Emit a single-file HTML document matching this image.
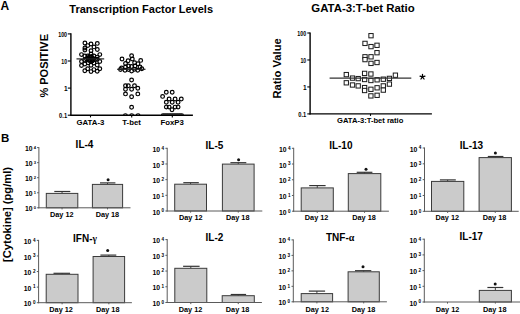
<!DOCTYPE html>
<html><head><meta charset="utf-8"><style>
html,body{margin:0;padding:0;background:#fff;}
body{width:520px;height:314px;overflow:hidden;}
svg{display:block;font-family:"Liberation Sans", sans-serif;}
</style></head><body>
<svg width="520" height="314" viewBox="0 0 520 314">
<rect width="520" height="314" fill="#fff"/>
<text x="0.6" y="9.6" font-size="12" font-weight="bold" text-anchor="start" fill="#000" >A</text>
<text x="1.0" y="142.3" font-size="11.5" font-weight="bold" text-anchor="start" fill="#000" >B</text>
<text x="141.2" y="12.7" font-size="11" font-weight="bold" text-anchor="middle" fill="#000" >Transcription Factor Levels</text>
<text transform="translate(48.1,97.6) rotate(-90)" x="0" y="0" font-size="11" font-weight="bold">% POSITIVE</text>
<line x1="70.9" y1="33.3" x2="70.9" y2="115.8" stroke="#000" stroke-width="1.4"/>
<line x1="70.3" y1="115.2" x2="192.9" y2="115.2" stroke="#000" stroke-width="1.4"/>
<line x1="67.8" y1="33.9" x2="70.9" y2="33.9" stroke="#000" stroke-width="1.1"/>
<text x="58.2" y="36.7" font-size="6.5" font-weight="bold" textLength="8.9" lengthAdjust="spacingAndGlyphs">100</text>
<line x1="67.8" y1="61.0" x2="70.9" y2="61.0" stroke="#000" stroke-width="1.1"/>
<text x="61.3" y="63.8" font-size="6.5" font-weight="bold" textLength="5.8" lengthAdjust="spacingAndGlyphs">10</text>
<line x1="67.8" y1="88.1" x2="70.9" y2="88.1" stroke="#000" stroke-width="1.1"/>
<text x="67.6" y="90.9" font-size="6.5" font-weight="bold" text-anchor="end">1</text>
<line x1="67.8" y1="115.2" x2="70.9" y2="115.2" stroke="#000" stroke-width="1.1"/>
<text x="59.1" y="118" font-size="6.5" font-weight="bold" textLength="8.0" lengthAdjust="spacingAndGlyphs">0.1</text>
<line x1="90.5" y1="115.2" x2="90.5" y2="117.4" stroke="#000" stroke-width="1.1"/>
<line x1="131.7" y1="115.2" x2="131.7" y2="117.4" stroke="#000" stroke-width="1.1"/>
<line x1="172.3" y1="115.2" x2="172.3" y2="117.4" stroke="#000" stroke-width="1.1"/>
<text x="90.4" y="124.7" font-size="7.8" font-weight="bold" text-anchor="middle" fill="#000" >GATA-3</text>
<text x="131.6" y="124.7" font-size="7.8" font-weight="bold" text-anchor="middle" fill="#000" >T-bet</text>
<text x="172.2" y="124.7" font-size="7.8" font-weight="bold" text-anchor="middle" fill="#000" >FoxP3</text>
<defs><clipPath id="abv"><rect x="60" y="20" width="140" height="95.2"/></clipPath></defs>
<circle cx="84.9" cy="43" r="1.85" fill="none" stroke="#000" stroke-width="1.2"/>
<circle cx="91" cy="44" r="1.85" fill="none" stroke="#000" stroke-width="1.2"/>
<circle cx="97.3" cy="43.4" r="1.85" fill="none" stroke="#000" stroke-width="1.2"/>
<circle cx="87.8" cy="45.6" r="1.85" fill="none" stroke="#000" stroke-width="1.2"/>
<circle cx="94" cy="46.9" r="1.85" fill="none" stroke="#000" stroke-width="1.2"/>
<circle cx="84.9" cy="48.0" r="1.85" fill="none" stroke="#000" stroke-width="1.2"/>
<circle cx="84.9" cy="50.0" r="1.85" fill="none" stroke="#000" stroke-width="1.2"/>
<circle cx="97.3" cy="49.5" r="1.85" fill="none" stroke="#000" stroke-width="1.2"/>
<circle cx="91" cy="50.7" r="1.85" fill="none" stroke="#000" stroke-width="1.2"/>
<circle cx="81.5" cy="54.6" r="1.85" fill="none" stroke="#000" stroke-width="1.2"/>
<circle cx="99.8" cy="54.6" r="1.85" fill="none" stroke="#000" stroke-width="1.2"/>
<circle cx="84.8" cy="56" r="1.85" fill="none" stroke="#000" stroke-width="1.2"/>
<circle cx="87.7" cy="56" r="1.85" fill="none" stroke="#000" stroke-width="1.2"/>
<circle cx="91" cy="54" r="1.85" fill="none" stroke="#000" stroke-width="1.2"/>
<circle cx="93.9" cy="56" r="1.85" fill="none" stroke="#000" stroke-width="1.2"/>
<circle cx="97.2" cy="57.1" r="1.85" fill="none" stroke="#000" stroke-width="1.2"/>
<circle cx="88.5" cy="58" r="1.85" fill="none" stroke="#000" stroke-width="1.2"/>
<circle cx="91" cy="57.5" r="1.85" fill="none" stroke="#000" stroke-width="1.2"/>
<circle cx="93" cy="58.5" r="1.85" fill="none" stroke="#000" stroke-width="1.2"/>
<circle cx="90" cy="60" r="1.85" fill="none" stroke="#000" stroke-width="1.2"/>
<circle cx="92.5" cy="60.5" r="1.85" fill="none" stroke="#000" stroke-width="1.2"/>
<circle cx="86.5" cy="59" r="1.85" fill="none" stroke="#000" stroke-width="1.2"/>
<circle cx="95.5" cy="59.5" r="1.85" fill="none" stroke="#000" stroke-width="1.2"/>
<circle cx="81.5" cy="61.5" r="1.85" fill="none" stroke="#000" stroke-width="1.2"/>
<circle cx="84.8" cy="60" r="1.85" fill="none" stroke="#000" stroke-width="1.2"/>
<circle cx="88.1" cy="62.8" r="1.85" fill="none" stroke="#000" stroke-width="1.2"/>
<circle cx="93.9" cy="63" r="1.85" fill="none" stroke="#000" stroke-width="1.2"/>
<circle cx="99.8" cy="61.5" r="1.85" fill="none" stroke="#000" stroke-width="1.2"/>
<circle cx="97.2" cy="59.3" r="1.85" fill="none" stroke="#000" stroke-width="1.2"/>
<circle cx="81.5" cy="65.5" r="1.85" fill="none" stroke="#000" stroke-width="1.2"/>
<circle cx="84.8" cy="64.1" r="1.85" fill="none" stroke="#000" stroke-width="1.2"/>
<circle cx="97.2" cy="65" r="1.85" fill="none" stroke="#000" stroke-width="1.2"/>
<circle cx="91" cy="65.2" r="1.85" fill="none" stroke="#000" stroke-width="1.2"/>
<circle cx="84.8" cy="70.7" r="1.85" fill="none" stroke="#000" stroke-width="1.2"/>
<circle cx="87.7" cy="68.8" r="1.85" fill="none" stroke="#000" stroke-width="1.2"/>
<circle cx="91" cy="71.6" r="1.85" fill="none" stroke="#000" stroke-width="1.2"/>
<circle cx="93.9" cy="69.6" r="1.85" fill="none" stroke="#000" stroke-width="1.2"/>
<circle cx="97.2" cy="71.2" r="1.85" fill="none" stroke="#000" stroke-width="1.2"/>
<circle cx="99.8" cy="68.8" r="1.85" fill="none" stroke="#000" stroke-width="1.2"/>
<circle cx="89.5" cy="57" r="1.85" fill="none" stroke="#000" stroke-width="1.2"/>
<circle cx="91.5" cy="56.5" r="1.85" fill="none" stroke="#000" stroke-width="1.2"/>
<circle cx="90.5" cy="59.5" r="1.85" fill="none" stroke="#000" stroke-width="1.2"/>
<circle cx="92" cy="61" r="1.85" fill="none" stroke="#000" stroke-width="1.2"/>
<circle cx="89" cy="60.5" r="1.85" fill="none" stroke="#000" stroke-width="1.2"/>
<circle cx="88" cy="58" r="1.85" fill="none" stroke="#000" stroke-width="1.2"/>
<circle cx="122" cy="59" r="1.85" fill="none" stroke="#000" stroke-width="1.2"/>
<circle cx="131.6" cy="55.8" r="1.85" fill="none" stroke="#000" stroke-width="1.2"/>
<circle cx="132.3" cy="59" r="1.85" fill="none" stroke="#000" stroke-width="1.2"/>
<circle cx="140.7" cy="60.4" r="1.85" fill="none" stroke="#000" stroke-width="1.2"/>
<circle cx="128.1" cy="60.8" r="1.85" fill="none" stroke="#000" stroke-width="1.2"/>
<circle cx="125.5" cy="63.5" r="1.85" fill="none" stroke="#000" stroke-width="1.2"/>
<circle cx="134.6" cy="62.7" r="1.85" fill="none" stroke="#000" stroke-width="1.2"/>
<circle cx="138" cy="63.8" r="1.85" fill="none" stroke="#000" stroke-width="1.2"/>
<circle cx="121.6" cy="68" r="1.85" fill="none" stroke="#000" stroke-width="1.2"/>
<circle cx="125.5" cy="67" r="1.85" fill="none" stroke="#000" stroke-width="1.2"/>
<circle cx="128.5" cy="66" r="1.85" fill="none" stroke="#000" stroke-width="1.2"/>
<circle cx="131.6" cy="66.5" r="1.85" fill="none" stroke="#000" stroke-width="1.2"/>
<circle cx="135" cy="66" r="1.85" fill="none" stroke="#000" stroke-width="1.2"/>
<circle cx="140" cy="67" r="1.85" fill="none" stroke="#000" stroke-width="1.2"/>
<circle cx="141.8" cy="68.8" r="1.85" fill="none" stroke="#000" stroke-width="1.2"/>
<circle cx="120.5" cy="69.5" r="1.85" fill="none" stroke="#000" stroke-width="1.2"/>
<circle cx="131.6" cy="71.1" r="1.85" fill="none" stroke="#000" stroke-width="1.2"/>
<circle cx="137.7" cy="70.3" r="1.85" fill="none" stroke="#000" stroke-width="1.2"/>
<circle cx="125" cy="70.3" r="1.85" fill="none" stroke="#000" stroke-width="1.2"/>
<circle cx="128.5" cy="69.5" r="1.85" fill="none" stroke="#000" stroke-width="1.2"/>
<circle cx="134.5" cy="69.3" r="1.85" fill="none" stroke="#000" stroke-width="1.2"/>
<circle cx="131.6" cy="80" r="1.85" fill="none" stroke="#000" stroke-width="1.2"/>
<circle cx="125.5" cy="85.7" r="1.85" fill="none" stroke="#000" stroke-width="1.2"/>
<circle cx="128.3" cy="85.7" r="1.85" fill="none" stroke="#000" stroke-width="1.2"/>
<circle cx="134.5" cy="85.7" r="1.85" fill="none" stroke="#000" stroke-width="1.2"/>
<circle cx="125.5" cy="89.3" r="1.85" fill="none" stroke="#000" stroke-width="1.2"/>
<circle cx="131.6" cy="89.3" r="1.85" fill="none" stroke="#000" stroke-width="1.2"/>
<circle cx="137.8" cy="88.2" r="1.85" fill="none" stroke="#000" stroke-width="1.2"/>
<circle cx="125.5" cy="93.9" r="1.85" fill="none" stroke="#000" stroke-width="1.2"/>
<circle cx="131.6" cy="96.8" r="1.85" fill="none" stroke="#000" stroke-width="1.2"/>
<circle cx="137.8" cy="93.9" r="1.85" fill="none" stroke="#000" stroke-width="1.2"/>
<circle cx="131.6" cy="107.2" r="1.85" fill="none" stroke="#000" stroke-width="1.2"/>
<circle cx="166.3" cy="92.3" r="1.85" fill="none" stroke="#000" stroke-width="1.2"/>
<circle cx="172.2" cy="92.3" r="1.85" fill="none" stroke="#000" stroke-width="1.2"/>
<circle cx="162.6" cy="96.4" r="1.85" fill="none" stroke="#000" stroke-width="1.2"/>
<circle cx="169.1" cy="99" r="1.85" fill="none" stroke="#000" stroke-width="1.2"/>
<circle cx="175.1" cy="99" r="1.85" fill="none" stroke="#000" stroke-width="1.2"/>
<circle cx="181.3" cy="99" r="1.85" fill="none" stroke="#000" stroke-width="1.2"/>
<circle cx="166.3" cy="102.3" r="1.85" fill="none" stroke="#000" stroke-width="1.2"/>
<circle cx="172.2" cy="102.3" r="1.85" fill="none" stroke="#000" stroke-width="1.2"/>
<circle cx="178.1" cy="102.3" r="1.85" fill="none" stroke="#000" stroke-width="1.2"/>
<circle cx="166.3" cy="107.1" r="1.85" fill="none" stroke="#000" stroke-width="1.2"/>
<circle cx="169.1" cy="107.1" r="1.85" fill="none" stroke="#000" stroke-width="1.2"/>
<circle cx="175.1" cy="107.1" r="1.85" fill="none" stroke="#000" stroke-width="1.2"/>
<circle cx="178.1" cy="107.1" r="1.85" fill="none" stroke="#000" stroke-width="1.2"/>
<circle cx="172" cy="109.8" r="1.85" fill="none" stroke="#000" stroke-width="1.2"/>
<g clip-path="url(#abv)">
<circle cx="125.4" cy="115.6" r="1.85" fill="none" stroke="#000" stroke-width="1.2"/>
<circle cx="131.7" cy="115.6" r="1.85" fill="none" stroke="#000" stroke-width="1.2"/>
<circle cx="138.1" cy="115.6" r="1.85" fill="none" stroke="#000" stroke-width="1.2"/>
<circle cx="163.2" cy="115.6" r="1.85" fill="none" stroke="#000" stroke-width="1.2"/>
<circle cx="165.5" cy="115.6" r="1.85" fill="none" stroke="#000" stroke-width="1.2"/>
<circle cx="167.8" cy="115.6" r="1.85" fill="none" stroke="#000" stroke-width="1.2"/>
<circle cx="170.1" cy="115.6" r="1.85" fill="none" stroke="#000" stroke-width="1.2"/>
<circle cx="172.4" cy="115.6" r="1.85" fill="none" stroke="#000" stroke-width="1.2"/>
<circle cx="174.7" cy="115.6" r="1.85" fill="none" stroke="#000" stroke-width="1.2"/>
<circle cx="177" cy="115.6" r="1.85" fill="none" stroke="#000" stroke-width="1.2"/>
<circle cx="179.3" cy="115.6" r="1.85" fill="none" stroke="#000" stroke-width="1.2"/>
<circle cx="181.5" cy="115.6" r="1.85" fill="none" stroke="#000" stroke-width="1.2"/>
</g>
<line x1="76.5" y1="58.9" x2="104.2" y2="58.9" stroke="#222" stroke-width="1.2"/>
<line x1="117.1" y1="69.3" x2="145.5" y2="69.3" stroke="#222" stroke-width="1.2"/>
<line x1="161.5" y1="114.4" x2="183.5" y2="114.4" stroke="#222" stroke-width="1.2"/>
<text x="363" y="11.8" font-size="11.4" font-weight="bold" text-anchor="middle" fill="#000" >GATA-3:T-bet Ratio</text>
<text transform="translate(280.6,98.6) rotate(-90)" x="0" y="0" font-size="11.2" font-weight="bold">Ratio Value</text>
<line x1="310.1" y1="32.4" x2="310.1" y2="114.5" stroke="#000" stroke-width="1.4"/>
<line x1="309.5" y1="113.9" x2="431.9" y2="113.9" stroke="#000" stroke-width="1.4"/>
<line x1="307.3" y1="33.0" x2="310.1" y2="33.0" stroke="#000" stroke-width="1.1"/>
<text x="297.3" y="35.7" font-size="6.5" font-weight="bold" textLength="8.9" lengthAdjust="spacingAndGlyphs">100</text>
<line x1="307.3" y1="59.97" x2="310.1" y2="59.97" stroke="#000" stroke-width="1.1"/>
<text x="300.4" y="62.67" font-size="6.5" font-weight="bold" textLength="5.8" lengthAdjust="spacingAndGlyphs">10</text>
<line x1="307.3" y1="86.93" x2="310.1" y2="86.93" stroke="#000" stroke-width="1.1"/>
<text x="306.7" y="89.63" font-size="6.5" font-weight="bold" text-anchor="end">1</text>
<line x1="307.3" y1="113.9" x2="310.1" y2="113.9" stroke="#000" stroke-width="1.1"/>
<text x="298.2" y="116.6" font-size="6.5" font-weight="bold" textLength="8.0" lengthAdjust="spacingAndGlyphs">0.1</text>
<line x1="370.5" y1="113.9" x2="370.5" y2="115.9" stroke="#000" stroke-width="1.1"/>
<text x="370.2" y="122.9" font-size="7.6" font-weight="bold" text-anchor="middle" fill="#000" >GATA-3:T-bet ratio</text>
<rect x="368.85" y="33.55" width="4.3" height="4.3" fill="#fff" stroke="#1a1a1a" stroke-width="1.0"/>
<rect x="362.85" y="41.25" width="4.3" height="4.3" fill="#fff" stroke="#1a1a1a" stroke-width="1.0"/>
<rect x="368.85" y="44.45" width="4.3" height="4.3" fill="#fff" stroke="#1a1a1a" stroke-width="1.0"/>
<rect x="374.85" y="43.15" width="4.3" height="4.3" fill="#fff" stroke="#1a1a1a" stroke-width="1.0"/>
<rect x="374.85" y="50.55" width="4.3" height="4.3" fill="#fff" stroke="#1a1a1a" stroke-width="1.0"/>
<rect x="362.85" y="54.65" width="4.3" height="4.3" fill="#fff" stroke="#1a1a1a" stroke-width="1.0"/>
<rect x="362.85" y="57.45" width="4.3" height="4.3" fill="#fff" stroke="#1a1a1a" stroke-width="1.0"/>
<rect x="368.85" y="54.65" width="4.3" height="4.3" fill="#fff" stroke="#1a1a1a" stroke-width="1.0"/>
<rect x="368.85" y="61.25" width="4.3" height="4.3" fill="#fff" stroke="#1a1a1a" stroke-width="1.0"/>
<rect x="374.85" y="60.35" width="4.3" height="4.3" fill="#fff" stroke="#1a1a1a" stroke-width="1.0"/>
<rect x="344.15" y="72.45" width="4.3" height="4.3" fill="#fff" stroke="#1a1a1a" stroke-width="1.0"/>
<rect x="362.45" y="71.25" width="4.3" height="4.3" fill="#fff" stroke="#1a1a1a" stroke-width="1.0"/>
<rect x="368.75" y="71.85" width="4.3" height="4.3" fill="#fff" stroke="#1a1a1a" stroke-width="1.0"/>
<rect x="393.25" y="73.05" width="4.3" height="4.3" fill="#fff" stroke="#1a1a1a" stroke-width="1.0"/>
<rect x="350.35" y="75.95" width="4.3" height="4.3" fill="#fff" stroke="#1a1a1a" stroke-width="1.0"/>
<rect x="356.05" y="76.45" width="4.3" height="4.3" fill="#fff" stroke="#1a1a1a" stroke-width="1.0"/>
<rect x="362.45" y="77.35" width="4.3" height="4.3" fill="#fff" stroke="#1a1a1a" stroke-width="1.0"/>
<rect x="368.75" y="78.35" width="4.3" height="4.3" fill="#fff" stroke="#1a1a1a" stroke-width="1.0"/>
<rect x="374.95" y="77.65" width="4.3" height="4.3" fill="#fff" stroke="#1a1a1a" stroke-width="1.0"/>
<rect x="381.15" y="77.05" width="4.3" height="4.3" fill="#fff" stroke="#1a1a1a" stroke-width="1.0"/>
<rect x="387.25" y="76.25" width="4.3" height="4.3" fill="#fff" stroke="#1a1a1a" stroke-width="1.0"/>
<rect x="344.15" y="80.65" width="4.3" height="4.3" fill="#fff" stroke="#1a1a1a" stroke-width="1.0"/>
<rect x="350.35" y="82.85" width="4.3" height="4.3" fill="#fff" stroke="#1a1a1a" stroke-width="1.0"/>
<rect x="356.05" y="83.75" width="4.3" height="4.3" fill="#fff" stroke="#1a1a1a" stroke-width="1.0"/>
<rect x="387.25" y="81.95" width="4.3" height="4.3" fill="#fff" stroke="#1a1a1a" stroke-width="1.0"/>
<rect x="362.45" y="85.45" width="4.3" height="4.3" fill="#fff" stroke="#1a1a1a" stroke-width="1.0"/>
<rect x="362.45" y="88.35" width="4.3" height="4.3" fill="#fff" stroke="#1a1a1a" stroke-width="1.0"/>
<rect x="368.75" y="87.15" width="4.3" height="4.3" fill="#fff" stroke="#1a1a1a" stroke-width="1.0"/>
<rect x="374.95" y="85.65" width="4.3" height="4.3" fill="#fff" stroke="#1a1a1a" stroke-width="1.0"/>
<rect x="381.15" y="83.75" width="4.3" height="4.3" fill="#fff" stroke="#1a1a1a" stroke-width="1.0"/>
<rect x="381.15" y="87.95" width="4.3" height="4.3" fill="#fff" stroke="#1a1a1a" stroke-width="1.0"/>
<rect x="368.75" y="93.75" width="4.3" height="4.3" fill="#fff" stroke="#1a1a1a" stroke-width="1.0"/>
<rect x="374.95" y="93.15" width="4.3" height="4.3" fill="#fff" stroke="#1a1a1a" stroke-width="1.0"/>
<line x1="329.6" y1="78.1" x2="411.3" y2="78.1" stroke="#333" stroke-width="1.2"/>
<path d="M422.50 76.90L422.50 74.30M422.50 76.90L424.97 76.10M422.50 76.90L424.03 79.00M422.50 76.90L420.97 79.00M422.50 76.90L420.03 76.10" stroke="#000" stroke-width="1.25" stroke-linecap="round" fill="none"/>
<text transform="translate(10.6,262) rotate(-90)" x="0" y="0" font-size="11.2" font-weight="bold">[Cytokine] (pg/ml)</text>
<text x="84.5" y="148.2" font-size="10" font-weight="bold" text-anchor="middle" fill="#000" >IL-4</text>
<line x1="62.05" y1="193.4" x2="62.05" y2="191.5" stroke="#444" stroke-width="1.0"/>
<line x1="54.3" y1="191.5" x2="70.3" y2="191.5" stroke="#333" stroke-width="1.2"/>
<rect x="46.3" y="193.4" width="31.5" height="14.4" fill="#cbcbcb" stroke="#3a3a3a" stroke-width="1"/>
<line x1="107.5" y1="184.4" x2="107.5" y2="182.9" stroke="#444" stroke-width="1.0"/>
<line x1="100.0" y1="182.9" x2="115.4" y2="182.9" stroke="#333" stroke-width="1.2"/>
<rect x="92.4" y="184.4" width="30.2" height="23.4" fill="#cbcbcb" stroke="#3a3a3a" stroke-width="1"/>
<line x1="38.9" y1="147.1" x2="38.9" y2="208.3" stroke="#5a5a5a" stroke-width="1.0"/>
<line x1="38.4" y1="207.8" x2="130.5" y2="207.8" stroke="#5a5a5a" stroke-width="1.0"/>
<line x1="37.1" y1="147.6" x2="38.9" y2="147.6" stroke="#5a5a5a" stroke-width="1.0"/>
<text x="25" y="151.15" font-size="7.6" font-weight="bold" textLength="7.6" lengthAdjust="spacingAndGlyphs">10</text>
<text x="33.65" y="148.9" font-size="4.1" font-weight="bold">4</text>
<line x1="37.1" y1="162.65" x2="38.9" y2="162.65" stroke="#5a5a5a" stroke-width="1.0"/>
<text x="25" y="166.2" font-size="7.6" font-weight="bold" textLength="7.6" lengthAdjust="spacingAndGlyphs">10</text>
<text x="33.65" y="163.95" font-size="4.1" font-weight="bold">3</text>
<line x1="37.1" y1="177.7" x2="38.9" y2="177.7" stroke="#5a5a5a" stroke-width="1.0"/>
<text x="25" y="181.25" font-size="7.6" font-weight="bold" textLength="7.6" lengthAdjust="spacingAndGlyphs">10</text>
<text x="33.65" y="179.0" font-size="4.1" font-weight="bold">2</text>
<line x1="37.1" y1="192.75" x2="38.9" y2="192.75" stroke="#5a5a5a" stroke-width="1.0"/>
<text x="25" y="196.3" font-size="7.6" font-weight="bold" textLength="7.6" lengthAdjust="spacingAndGlyphs">10</text>
<text x="33.65" y="194.05" font-size="4.1" font-weight="bold">1</text>
<line x1="37.1" y1="207.8" x2="38.9" y2="207.8" stroke="#5a5a5a" stroke-width="1.0"/>
<text x="25" y="211.35" font-size="7.6" font-weight="bold" textLength="7.6" lengthAdjust="spacingAndGlyphs">10</text>
<text x="33.65" y="209.1" font-size="4.1" font-weight="bold">0</text>
<line x1="62.05" y1="207.8" x2="62.05" y2="209.4" stroke="#5a5a5a" stroke-width="1.0"/>
<line x1="107.5" y1="207.8" x2="107.5" y2="209.4" stroke="#5a5a5a" stroke-width="1.0"/>
<text x="61.8" y="216.6" font-size="7.3" font-weight="bold" text-anchor="middle" fill="#000" >Day 12</text>
<text x="107.4" y="216.6" font-size="7.3" font-weight="bold" text-anchor="middle" fill="#000" >Day 18</text>
<circle cx="108.1" cy="179.8" r="1.5" fill="#111"/>
<text x="214.4" y="149.0" font-size="10" font-weight="bold" text-anchor="middle" fill="#000" >IL-5</text>
<line x1="190.6" y1="184.2" x2="190.6" y2="182.7" stroke="#444" stroke-width="1.0"/>
<line x1="183.3" y1="182.7" x2="198.8" y2="182.7" stroke="#333" stroke-width="1.2"/>
<rect x="174.7" y="184.2" width="31.8" height="26.8" fill="#cbcbcb" stroke="#3a3a3a" stroke-width="1"/>
<line x1="238.25" y1="164.1" x2="238.25" y2="162.7" stroke="#444" stroke-width="1.0"/>
<line x1="230.4" y1="162.7" x2="246.3" y2="162.7" stroke="#333" stroke-width="1.2"/>
<rect x="222.4" y="164.1" width="31.7" height="46.9" fill="#cbcbcb" stroke="#3a3a3a" stroke-width="1"/>
<line x1="167.2" y1="147.8" x2="167.2" y2="211.5" stroke="#5a5a5a" stroke-width="1.0"/>
<line x1="166.7" y1="211.0" x2="262.3" y2="211.0" stroke="#5a5a5a" stroke-width="1.0"/>
<line x1="165.4" y1="148.3" x2="167.2" y2="148.3" stroke="#5a5a5a" stroke-width="1.0"/>
<text x="152.4" y="151.85" font-size="7.6" font-weight="bold" textLength="7.6" lengthAdjust="spacingAndGlyphs">10</text>
<text x="161.5" y="149.6" font-size="4.6" font-weight="bold">4</text>
<line x1="165.4" y1="163.98" x2="167.2" y2="163.98" stroke="#5a5a5a" stroke-width="1.0"/>
<text x="152.4" y="167.53" font-size="7.6" font-weight="bold" textLength="7.6" lengthAdjust="spacingAndGlyphs">10</text>
<text x="161.5" y="165.28" font-size="4.6" font-weight="bold">3</text>
<line x1="165.4" y1="179.65" x2="167.2" y2="179.65" stroke="#5a5a5a" stroke-width="1.0"/>
<text x="152.4" y="183.2" font-size="7.6" font-weight="bold" textLength="7.6" lengthAdjust="spacingAndGlyphs">10</text>
<text x="161.5" y="180.95" font-size="4.6" font-weight="bold">2</text>
<line x1="165.4" y1="195.32" x2="167.2" y2="195.32" stroke="#5a5a5a" stroke-width="1.0"/>
<text x="152.4" y="198.88" font-size="7.6" font-weight="bold" textLength="7.6" lengthAdjust="spacingAndGlyphs">10</text>
<text x="161.5" y="196.62" font-size="4.6" font-weight="bold">1</text>
<line x1="165.4" y1="211.0" x2="167.2" y2="211.0" stroke="#5a5a5a" stroke-width="1.0"/>
<text x="152.4" y="214.55" font-size="7.6" font-weight="bold" textLength="7.6" lengthAdjust="spacingAndGlyphs">10</text>
<text x="161.5" y="212.3" font-size="4.6" font-weight="bold">0</text>
<line x1="190.6" y1="211.0" x2="190.6" y2="212.6" stroke="#5a5a5a" stroke-width="1.0"/>
<line x1="238.25" y1="211.0" x2="238.25" y2="212.6" stroke="#5a5a5a" stroke-width="1.0"/>
<text x="190.8" y="220.0" font-size="7.3" font-weight="bold" text-anchor="middle" fill="#000" >Day 12</text>
<text x="237.7" y="220.0" font-size="7.3" font-weight="bold" text-anchor="middle" fill="#000" >Day 18</text>
<circle cx="238.6" cy="159.8" r="1.5" fill="#111"/>
<text x="340.8" y="149.0" font-size="10" font-weight="bold" text-anchor="middle" fill="#000" >IL-10</text>
<line x1="317.25" y1="187.9" x2="317.25" y2="185.6" stroke="#444" stroke-width="1.0"/>
<line x1="309.2" y1="185.6" x2="325.6" y2="185.6" stroke="#333" stroke-width="1.2"/>
<rect x="301.2" y="187.9" width="32.1" height="23.3" fill="#cbcbcb" stroke="#3a3a3a" stroke-width="1"/>
<line x1="364.55" y1="173.6" x2="364.55" y2="172.3" stroke="#444" stroke-width="1.0"/>
<line x1="356.7" y1="172.3" x2="372.4" y2="172.3" stroke="#333" stroke-width="1.2"/>
<rect x="348.3" y="173.6" width="32.5" height="37.6" fill="#cbcbcb" stroke="#3a3a3a" stroke-width="1"/>
<line x1="293.7" y1="147.8" x2="293.7" y2="211.7" stroke="#5a5a5a" stroke-width="1.0"/>
<line x1="293.2" y1="211.2" x2="388.9" y2="211.2" stroke="#5a5a5a" stroke-width="1.0"/>
<line x1="291.9" y1="148.3" x2="293.7" y2="148.3" stroke="#5a5a5a" stroke-width="1.0"/>
<text x="278.9" y="151.85" font-size="7.6" font-weight="bold" textLength="7.6" lengthAdjust="spacingAndGlyphs">10</text>
<text x="288.0" y="149.6" font-size="4.6" font-weight="bold">4</text>
<line x1="291.9" y1="164.03" x2="293.7" y2="164.03" stroke="#5a5a5a" stroke-width="1.0"/>
<text x="278.9" y="167.58" font-size="7.6" font-weight="bold" textLength="7.6" lengthAdjust="spacingAndGlyphs">10</text>
<text x="288.0" y="165.33" font-size="4.6" font-weight="bold">3</text>
<line x1="291.9" y1="179.75" x2="293.7" y2="179.75" stroke="#5a5a5a" stroke-width="1.0"/>
<text x="278.9" y="183.3" font-size="7.6" font-weight="bold" textLength="7.6" lengthAdjust="spacingAndGlyphs">10</text>
<text x="288.0" y="181.05" font-size="4.6" font-weight="bold">2</text>
<line x1="291.9" y1="195.47" x2="293.7" y2="195.47" stroke="#5a5a5a" stroke-width="1.0"/>
<text x="278.9" y="199.03" font-size="7.6" font-weight="bold" textLength="7.6" lengthAdjust="spacingAndGlyphs">10</text>
<text x="288.0" y="196.78" font-size="4.6" font-weight="bold">1</text>
<line x1="291.9" y1="211.2" x2="293.7" y2="211.2" stroke="#5a5a5a" stroke-width="1.0"/>
<text x="278.9" y="214.75" font-size="7.6" font-weight="bold" textLength="7.6" lengthAdjust="spacingAndGlyphs">10</text>
<text x="288.0" y="212.5" font-size="4.6" font-weight="bold">0</text>
<line x1="317.25" y1="211.2" x2="317.25" y2="212.8" stroke="#5a5a5a" stroke-width="1.0"/>
<line x1="364.55" y1="211.2" x2="364.55" y2="212.8" stroke="#5a5a5a" stroke-width="1.0"/>
<text x="316.6" y="220.0" font-size="7.3" font-weight="bold" text-anchor="middle" fill="#000" >Day 12</text>
<text x="364.0" y="220.0" font-size="7.3" font-weight="bold" text-anchor="middle" fill="#000" >Day 18</text>
<circle cx="366.0" cy="169.2" r="1.5" fill="#111"/>
<text x="471.5" y="149.3" font-size="10" font-weight="bold" text-anchor="middle" fill="#000" >IL-13</text>
<line x1="447.65" y1="181.4" x2="447.65" y2="179.9" stroke="#444" stroke-width="1.0"/>
<line x1="439.9" y1="179.9" x2="455.8" y2="179.9" stroke="#333" stroke-width="1.2"/>
<rect x="431.5" y="181.4" width="32.3" height="29.9" fill="#cbcbcb" stroke="#3a3a3a" stroke-width="1"/>
<line x1="495.25" y1="157.6" x2="495.25" y2="156.5" stroke="#444" stroke-width="1.0"/>
<line x1="487.8" y1="156.5" x2="503.4" y2="156.5" stroke="#333" stroke-width="1.2"/>
<rect x="479.1" y="157.6" width="32.3" height="53.7" fill="#cbcbcb" stroke="#3a3a3a" stroke-width="1"/>
<line x1="424.5" y1="147.5" x2="424.5" y2="211.8" stroke="#5a5a5a" stroke-width="1.0"/>
<line x1="424.0" y1="211.3" x2="518.7" y2="211.3" stroke="#5a5a5a" stroke-width="1.0"/>
<line x1="422.7" y1="148.0" x2="424.5" y2="148.0" stroke="#5a5a5a" stroke-width="1.0"/>
<text x="409.7" y="151.55" font-size="7.6" font-weight="bold" textLength="7.6" lengthAdjust="spacingAndGlyphs">10</text>
<text x="418.8" y="149.3" font-size="4.6" font-weight="bold">4</text>
<line x1="422.7" y1="163.82" x2="424.5" y2="163.82" stroke="#5a5a5a" stroke-width="1.0"/>
<text x="409.7" y="167.38" font-size="7.6" font-weight="bold" textLength="7.6" lengthAdjust="spacingAndGlyphs">10</text>
<text x="418.8" y="165.12" font-size="4.6" font-weight="bold">3</text>
<line x1="422.7" y1="179.65" x2="424.5" y2="179.65" stroke="#5a5a5a" stroke-width="1.0"/>
<text x="409.7" y="183.2" font-size="7.6" font-weight="bold" textLength="7.6" lengthAdjust="spacingAndGlyphs">10</text>
<text x="418.8" y="180.95" font-size="4.6" font-weight="bold">2</text>
<line x1="422.7" y1="195.48" x2="424.5" y2="195.48" stroke="#5a5a5a" stroke-width="1.0"/>
<text x="409.7" y="199.03" font-size="7.6" font-weight="bold" textLength="7.6" lengthAdjust="spacingAndGlyphs">10</text>
<text x="418.8" y="196.78" font-size="4.6" font-weight="bold">1</text>
<line x1="422.7" y1="211.3" x2="424.5" y2="211.3" stroke="#5a5a5a" stroke-width="1.0"/>
<text x="409.7" y="214.85" font-size="7.6" font-weight="bold" textLength="7.6" lengthAdjust="spacingAndGlyphs">10</text>
<text x="418.8" y="212.6" font-size="4.6" font-weight="bold">0</text>
<line x1="447.65" y1="211.3" x2="447.65" y2="212.9" stroke="#5a5a5a" stroke-width="1.0"/>
<line x1="495.25" y1="211.3" x2="495.25" y2="212.9" stroke="#5a5a5a" stroke-width="1.0"/>
<text x="447.3" y="220.0" font-size="7.3" font-weight="bold" text-anchor="middle" fill="#000" >Day 12</text>
<text x="494.5" y="220.0" font-size="7.3" font-weight="bold" text-anchor="middle" fill="#000" >Day 18</text>
<circle cx="495.4" cy="153.1" r="1.5" fill="#111"/>
<text x="85.0" y="241.6" font-size="10" font-weight="bold" text-anchor="middle">IFN-<tspan font-family="Liberation Serif" font-size="9.5">γ</tspan></text>
<line x1="62.1" y1="274.3" x2="62.1" y2="273.3" stroke="#444" stroke-width="1.0"/>
<line x1="53.5" y1="273.3" x2="70.1" y2="273.3" stroke="#333" stroke-width="1.2"/>
<rect x="46.2" y="274.3" width="31.8" height="28.4" fill="#cbcbcb" stroke="#3a3a3a" stroke-width="1"/>
<line x1="108.85" y1="256.5" x2="108.85" y2="255.1" stroke="#444" stroke-width="1.0"/>
<line x1="100.4" y1="255.1" x2="116.3" y2="255.1" stroke="#333" stroke-width="1.2"/>
<rect x="93.1" y="256.5" width="31.5" height="46.2" fill="#cbcbcb" stroke="#3a3a3a" stroke-width="1"/>
<line x1="38.6" y1="239.9" x2="38.6" y2="303.2" stroke="#5a5a5a" stroke-width="1.0"/>
<line x1="38.1" y1="302.7" x2="131.9" y2="302.7" stroke="#5a5a5a" stroke-width="1.0"/>
<line x1="36.8" y1="240.4" x2="38.6" y2="240.4" stroke="#5a5a5a" stroke-width="1.0"/>
<text x="23.8" y="243.95" font-size="7.6" font-weight="bold" textLength="7.6" lengthAdjust="spacingAndGlyphs">10</text>
<text x="32.9" y="241.7" font-size="4.6" font-weight="bold">4</text>
<line x1="36.8" y1="255.97" x2="38.6" y2="255.97" stroke="#5a5a5a" stroke-width="1.0"/>
<text x="23.8" y="259.52" font-size="7.6" font-weight="bold" textLength="7.6" lengthAdjust="spacingAndGlyphs">10</text>
<text x="32.9" y="257.27" font-size="4.6" font-weight="bold">3</text>
<line x1="36.8" y1="271.55" x2="38.6" y2="271.55" stroke="#5a5a5a" stroke-width="1.0"/>
<text x="23.8" y="275.1" font-size="7.6" font-weight="bold" textLength="7.6" lengthAdjust="spacingAndGlyphs">10</text>
<text x="32.9" y="272.85" font-size="4.6" font-weight="bold">2</text>
<line x1="36.8" y1="287.12" x2="38.6" y2="287.12" stroke="#5a5a5a" stroke-width="1.0"/>
<text x="23.8" y="290.68" font-size="7.6" font-weight="bold" textLength="7.6" lengthAdjust="spacingAndGlyphs">10</text>
<text x="32.9" y="288.43" font-size="4.6" font-weight="bold">1</text>
<line x1="36.8" y1="302.7" x2="38.6" y2="302.7" stroke="#5a5a5a" stroke-width="1.0"/>
<text x="23.8" y="306.25" font-size="7.6" font-weight="bold" textLength="7.6" lengthAdjust="spacingAndGlyphs">10</text>
<text x="32.9" y="304.0" font-size="4.6" font-weight="bold">0</text>
<line x1="62.1" y1="302.7" x2="62.1" y2="304.3" stroke="#5a5a5a" stroke-width="1.0"/>
<line x1="108.85" y1="302.7" x2="108.85" y2="304.3" stroke="#5a5a5a" stroke-width="1.0"/>
<text x="61.1" y="311.8" font-size="7.3" font-weight="bold" text-anchor="middle" fill="#000" >Day 12</text>
<text x="107.7" y="311.8" font-size="7.3" font-weight="bold" text-anchor="middle" fill="#000" >Day 18</text>
<circle cx="107.7" cy="250.6" r="1.5" fill="#111"/>
<text x="214.4" y="240.9" font-size="10" font-weight="bold" text-anchor="middle" fill="#000" >IL-2</text>
<line x1="190.8" y1="268.3" x2="190.8" y2="266.3" stroke="#444" stroke-width="1.0"/>
<line x1="183.1" y1="266.3" x2="199.6" y2="266.3" stroke="#333" stroke-width="1.2"/>
<rect x="174.8" y="268.3" width="32.0" height="34.2" fill="#cbcbcb" stroke="#3a3a3a" stroke-width="1"/>
<line x1="238.25" y1="295.7" x2="238.25" y2="294.5" stroke="#444" stroke-width="1.0"/>
<line x1="230.7" y1="294.5" x2="246.1" y2="294.5" stroke="#333" stroke-width="1.2"/>
<rect x="222.2" y="295.7" width="32.1" height="6.8" fill="#cbcbcb" stroke="#3a3a3a" stroke-width="1"/>
<line x1="167.2" y1="239.1" x2="167.2" y2="303.0" stroke="#5a5a5a" stroke-width="1.0"/>
<line x1="166.7" y1="302.5" x2="261.9" y2="302.5" stroke="#5a5a5a" stroke-width="1.0"/>
<line x1="165.4" y1="239.6" x2="167.2" y2="239.6" stroke="#5a5a5a" stroke-width="1.0"/>
<text x="152.4" y="243.15" font-size="7.6" font-weight="bold" textLength="7.6" lengthAdjust="spacingAndGlyphs">10</text>
<text x="161.5" y="240.9" font-size="4.6" font-weight="bold">4</text>
<line x1="165.4" y1="255.32" x2="167.2" y2="255.32" stroke="#5a5a5a" stroke-width="1.0"/>
<text x="152.4" y="258.88" font-size="7.6" font-weight="bold" textLength="7.6" lengthAdjust="spacingAndGlyphs">10</text>
<text x="161.5" y="256.62" font-size="4.6" font-weight="bold">3</text>
<line x1="165.4" y1="271.05" x2="167.2" y2="271.05" stroke="#5a5a5a" stroke-width="1.0"/>
<text x="152.4" y="274.6" font-size="7.6" font-weight="bold" textLength="7.6" lengthAdjust="spacingAndGlyphs">10</text>
<text x="161.5" y="272.35" font-size="4.6" font-weight="bold">2</text>
<line x1="165.4" y1="286.77" x2="167.2" y2="286.77" stroke="#5a5a5a" stroke-width="1.0"/>
<text x="152.4" y="290.32" font-size="7.6" font-weight="bold" textLength="7.6" lengthAdjust="spacingAndGlyphs">10</text>
<text x="161.5" y="288.07" font-size="4.6" font-weight="bold">1</text>
<line x1="165.4" y1="302.5" x2="167.2" y2="302.5" stroke="#5a5a5a" stroke-width="1.0"/>
<text x="152.4" y="306.05" font-size="7.6" font-weight="bold" textLength="7.6" lengthAdjust="spacingAndGlyphs">10</text>
<text x="161.5" y="303.8" font-size="4.6" font-weight="bold">0</text>
<line x1="190.8" y1="302.5" x2="190.8" y2="304.1" stroke="#5a5a5a" stroke-width="1.0"/>
<line x1="238.25" y1="302.5" x2="238.25" y2="304.1" stroke="#5a5a5a" stroke-width="1.0"/>
<text x="190.5" y="311.8" font-size="7.3" font-weight="bold" text-anchor="middle" fill="#000" >Day 12</text>
<text x="237.6" y="311.8" font-size="7.3" font-weight="bold" text-anchor="middle" fill="#000" >Day 18</text>
<text x="340.2" y="240.9" font-size="10" font-weight="bold" text-anchor="middle">TNF-<tspan font-family="Liberation Serif" font-weight="bold" font-size="10">α</tspan></text>
<line x1="316.9" y1="293.6" x2="316.9" y2="291.1" stroke="#444" stroke-width="1.0"/>
<line x1="308.8" y1="291.1" x2="325.1" y2="291.1" stroke="#333" stroke-width="1.2"/>
<rect x="301.2" y="293.6" width="31.4" height="8.2" fill="#cbcbcb" stroke="#3a3a3a" stroke-width="1"/>
<line x1="363.7" y1="271.8" x2="363.7" y2="270.7" stroke="#444" stroke-width="1.0"/>
<line x1="355.0" y1="270.7" x2="371.3" y2="270.7" stroke="#333" stroke-width="1.2"/>
<rect x="348.1" y="271.8" width="31.2" height="30.0" fill="#cbcbcb" stroke="#3a3a3a" stroke-width="1"/>
<line x1="293.3" y1="239.4" x2="293.3" y2="302.3" stroke="#5a5a5a" stroke-width="1.0"/>
<line x1="292.8" y1="301.8" x2="386.9" y2="301.8" stroke="#5a5a5a" stroke-width="1.0"/>
<line x1="291.5" y1="239.9" x2="293.3" y2="239.9" stroke="#5a5a5a" stroke-width="1.0"/>
<text x="278.5" y="243.45" font-size="7.6" font-weight="bold" textLength="7.6" lengthAdjust="spacingAndGlyphs">10</text>
<text x="287.6" y="241.2" font-size="4.6" font-weight="bold">4</text>
<line x1="291.5" y1="255.38" x2="293.3" y2="255.38" stroke="#5a5a5a" stroke-width="1.0"/>
<text x="278.5" y="258.93" font-size="7.6" font-weight="bold" textLength="7.6" lengthAdjust="spacingAndGlyphs">10</text>
<text x="287.6" y="256.68" font-size="4.6" font-weight="bold">3</text>
<line x1="291.5" y1="270.85" x2="293.3" y2="270.85" stroke="#5a5a5a" stroke-width="1.0"/>
<text x="278.5" y="274.4" font-size="7.6" font-weight="bold" textLength="7.6" lengthAdjust="spacingAndGlyphs">10</text>
<text x="287.6" y="272.15" font-size="4.6" font-weight="bold">2</text>
<line x1="291.5" y1="286.32" x2="293.3" y2="286.32" stroke="#5a5a5a" stroke-width="1.0"/>
<text x="278.5" y="289.88" font-size="7.6" font-weight="bold" textLength="7.6" lengthAdjust="spacingAndGlyphs">10</text>
<text x="287.6" y="287.62" font-size="4.6" font-weight="bold">1</text>
<line x1="291.5" y1="301.8" x2="293.3" y2="301.8" stroke="#5a5a5a" stroke-width="1.0"/>
<text x="278.5" y="305.35" font-size="7.6" font-weight="bold" textLength="7.6" lengthAdjust="spacingAndGlyphs">10</text>
<text x="287.6" y="303.1" font-size="4.6" font-weight="bold">0</text>
<line x1="316.9" y1="301.8" x2="316.9" y2="303.4" stroke="#5a5a5a" stroke-width="1.0"/>
<line x1="363.7" y1="301.8" x2="363.7" y2="303.4" stroke="#5a5a5a" stroke-width="1.0"/>
<text x="317.2" y="311.6" font-size="7.3" font-weight="bold" text-anchor="middle" fill="#000" >Day 12</text>
<text x="363.5" y="311.6" font-size="7.3" font-weight="bold" text-anchor="middle" fill="#000" >Day 18</text>
<circle cx="363.0" cy="266.8" r="1.5" fill="#111"/>
<text x="471.2" y="240.0" font-size="10" font-weight="bold" text-anchor="middle" fill="#000" >IL-17</text>
<line x1="495.35" y1="290.4" x2="495.35" y2="287.5" stroke="#444" stroke-width="1.0"/>
<line x1="487.4" y1="287.5" x2="503.3" y2="287.5" stroke="#333" stroke-width="1.2"/>
<rect x="479.3" y="290.4" width="32.1" height="11.6" fill="#cbcbcb" stroke="#3a3a3a" stroke-width="1"/>
<line x1="424.3" y1="238.7" x2="424.3" y2="302.5" stroke="#5a5a5a" stroke-width="1.0"/>
<line x1="423.8" y1="302.0" x2="520.0" y2="302.0" stroke="#5a5a5a" stroke-width="1.0"/>
<line x1="422.5" y1="239.2" x2="424.3" y2="239.2" stroke="#5a5a5a" stroke-width="1.0"/>
<text x="409.5" y="242.75" font-size="7.6" font-weight="bold" textLength="7.6" lengthAdjust="spacingAndGlyphs">10</text>
<text x="418.6" y="240.5" font-size="4.6" font-weight="bold">4</text>
<line x1="422.5" y1="254.9" x2="424.3" y2="254.9" stroke="#5a5a5a" stroke-width="1.0"/>
<text x="409.5" y="258.45" font-size="7.6" font-weight="bold" textLength="7.6" lengthAdjust="spacingAndGlyphs">10</text>
<text x="418.6" y="256.2" font-size="4.6" font-weight="bold">3</text>
<line x1="422.5" y1="270.6" x2="424.3" y2="270.6" stroke="#5a5a5a" stroke-width="1.0"/>
<text x="409.5" y="274.15" font-size="7.6" font-weight="bold" textLength="7.6" lengthAdjust="spacingAndGlyphs">10</text>
<text x="418.6" y="271.9" font-size="4.6" font-weight="bold">2</text>
<line x1="422.5" y1="286.3" x2="424.3" y2="286.3" stroke="#5a5a5a" stroke-width="1.0"/>
<text x="409.5" y="289.85" font-size="7.6" font-weight="bold" textLength="7.6" lengthAdjust="spacingAndGlyphs">10</text>
<text x="418.6" y="287.6" font-size="4.6" font-weight="bold">1</text>
<line x1="422.5" y1="302.0" x2="424.3" y2="302.0" stroke="#5a5a5a" stroke-width="1.0"/>
<text x="409.5" y="305.55" font-size="7.6" font-weight="bold" textLength="7.6" lengthAdjust="spacingAndGlyphs">10</text>
<text x="418.6" y="303.3" font-size="4.6" font-weight="bold">0</text>
<line x1="447.5" y1="302.0" x2="447.5" y2="303.6" stroke="#5a5a5a" stroke-width="1.0"/>
<line x1="495.35" y1="302.0" x2="495.35" y2="303.6" stroke="#5a5a5a" stroke-width="1.0"/>
<text x="447.5" y="311.5" font-size="7.3" font-weight="bold" text-anchor="middle" fill="#000" >Day 12</text>
<text x="494.7" y="311.5" font-size="7.3" font-weight="bold" text-anchor="middle" fill="#000" >Day 18</text>
<circle cx="495.2" cy="284.0" r="1.5" fill="#111"/>
</svg>
</body></html>
